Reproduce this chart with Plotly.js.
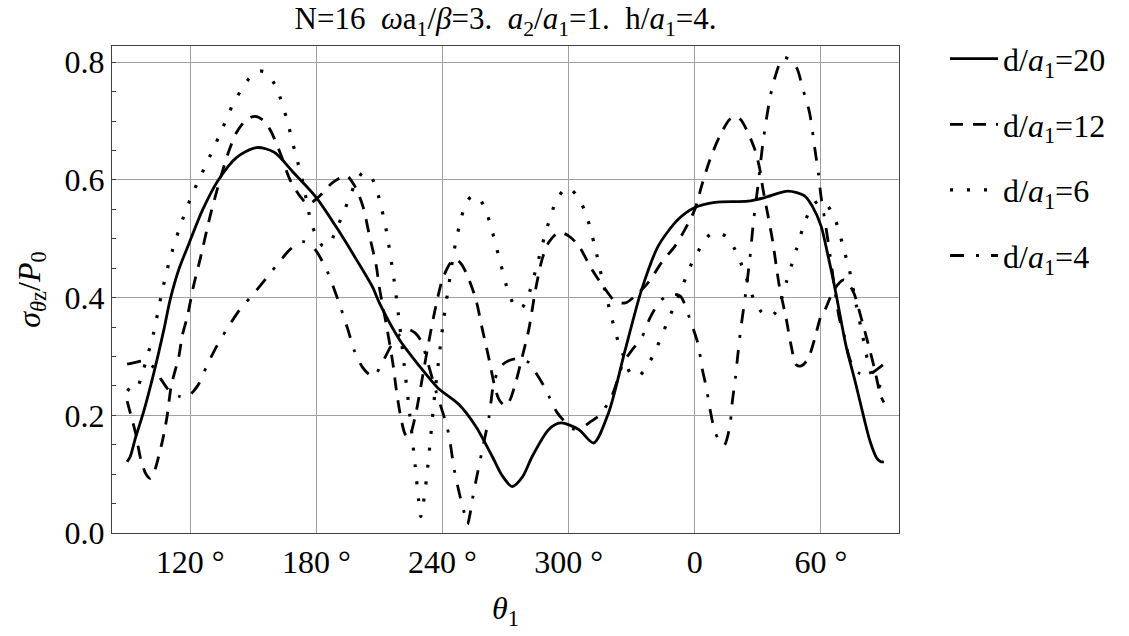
<!DOCTYPE html>
<html><head><meta charset="utf-8">
<script src="https://cdn.plot.ly/plotly-3.0.1.min.js"></script>
<style>html,body{margin:0;padding:0;background:#fff;} #chart{width:1129px;height:636px;}</style>
</head><body><div id="chart"></div>
<script>
// legend labels
const seriesNames = ["d/<i>a</i><sub>1</sub>=20", "d/<i>a</i><sub>1</sub>=12", "d/<i>a</i><sub>1</sub>=6", "d/<i>a</i><sub>1</sub>=4"];

// x tick positions (degrees, unwrapped 90..450) and labels
const tickDeg = [120, 180, 240, 300, 360, 420];
const tickText = ["120 °", "180 °", "240 °", "300 °", "0", "60 °"];

// y tick values and labels
const yTickVals = [0, 0.2, 0.4, 0.6, 0.8];
const yTickText = ["0.0", "0.2", "0.4", "0.6", "0.8"];

// d/a1 = 20 (solid)
const thetaD20 = [90, 91.5, 94, 98, 102.7, 107.5, 110.5, 114.5, 119.2, 126, 133.4, 142, 151.6, 160, 169, 180, 191.1, 199, 206.9, 210, 219.5, 229, 237.7, 248, 255.9, 263.7, 268.5, 273.2, 278, 282.7, 290.6, 296.2, 304.8, 311.9, 319, 327, 334.8, 342.7, 352.2, 360.1, 369.6, 385.4, 393.3, 404.4, 412.3, 416, 420.1, 423.5, 426.5, 432, 436.5, 440.7, 443.5, 446.5, 448.5, 450];
const valD20 = [0.121, 0.13, 0.162, 0.208, 0.272, 0.346, 0.397, 0.447, 0.49, 0.55, 0.60, 0.638, 0.655, 0.647, 0.613, 0.570, 0.511, 0.465, 0.417, 0.391, 0.329, 0.284, 0.247, 0.218, 0.181, 0.130, 0.097, 0.079, 0.095, 0.130, 0.176, 0.187, 0.176, 0.153, 0.204, 0.312, 0.414, 0.488, 0.533, 0.553, 0.562, 0.564, 0.570, 0.581, 0.573, 0.555, 0.522, 0.47, 0.42, 0.318, 0.255, 0.193, 0.155, 0.128, 0.121, 0.121];

// d/a1 = 12 (dashed)
const thetaD12 = [90, 91.5, 94, 96.5, 99, 101, 103, 105, 107, 109, 111, 114.6, 116.2, 118.7, 121.6, 124.7, 129.5, 134.2, 138.2, 142.1, 146.9, 150.8, 154.5, 157.9, 162.7, 167.4, 172.1, 176.1, 181.6, 187.9, 194.3, 198.2, 202.1, 205.3, 208.5, 210, 213.5, 216.4, 218, 220, 222, 223.5, 225, 227.4, 230.6, 233.7, 236.9, 240, 244, 246.4, 249, 251.9, 255.9, 259, 262.2, 264.5, 266.9, 269.8, 272, 274.8, 278, 281.1, 284.3, 287.4, 290.6, 295.4, 300, 304.8, 311.1, 317.5, 322.2, 327, 331.7, 338, 344.3, 350.7, 355.4, 360.1, 363.3, 367.3, 372, 376.7, 379.4, 382, 384.6, 388.6, 391, 392.5, 394.9, 397.2, 398.8, 400.4, 403.6, 405.9, 408.3, 410.7, 413.8, 417, 420.1, 421.7, 426.4, 431, 435.2, 439.1, 442.5, 445.5, 448.5, 450];
const valD12 = [0.224, 0.204, 0.17, 0.125, 0.10, 0.093, 0.105, 0.13, 0.16, 0.198, 0.25, 0.30, 0.335, 0.369, 0.42, 0.465, 0.539, 0.601, 0.647, 0.681, 0.703, 0.708, 0.702, 0.686, 0.647, 0.601, 0.573, 0.559, 0.573, 0.596, 0.607, 0.59, 0.556, 0.505, 0.454, 0.417, 0.35, 0.289, 0.245, 0.20, 0.17, 0.162, 0.17, 0.204, 0.267, 0.329, 0.386, 0.431, 0.46, 0.465, 0.457, 0.437, 0.397, 0.346, 0.295, 0.255, 0.227, 0.216, 0.225, 0.255, 0.30, 0.346, 0.414, 0.465, 0.494, 0.511, 0.505, 0.488, 0.448, 0.414, 0.394, 0.391, 0.403, 0.426, 0.46, 0.488, 0.516, 0.55, 0.59, 0.635, 0.675, 0.703, 0.708, 0.702, 0.686, 0.652, 0.618, 0.584, 0.539, 0.494, 0.454, 0.417, 0.363, 0.318, 0.286, 0.284, 0.295, 0.329, 0.369, 0.377, 0.414, 0.43, 0.412, 0.367, 0.322, 0.28, 0.233, 0.222];

// d/a1 = 6 (dotted)
const thetaD6 = [90, 92.5, 95, 97.3, 99.6, 102.6, 106.6, 110.4, 115.2, 120.8, 127.5, 134.2, 140.5, 144.5, 148.9, 152.5, 155.8, 160.6, 165.8, 169.7, 173.6, 176.8, 179.1, 183.1, 186, 188.6, 194.9, 198.1, 202, 205, 207.6, 210, 213.4, 217.1, 219.1, 221.8, 224.5, 227, 228.6, 229.7, 230.9, 232.5, 234.5, 236, 238.7, 240.7, 243.1, 245.5, 248.9, 251.5, 254, 257, 260.8, 263.3, 267.3, 271.6, 275, 277.5, 280.2, 284.9, 288.9, 293.9, 298.6, 301.5, 304.3, 307.9, 312.3, 315.8, 319.5, 323.7, 326.5, 329.5, 333, 336.3, 340.3, 346.6, 352.8, 358.8, 362.7, 367.5, 371, 374.9, 379.3, 382.5, 385.3, 387.8, 391.7, 395, 398, 401, 403.6, 408.3, 413, 417, 420, 423.3, 427.2, 431.5, 433.6, 436.7, 439.9, 441.5, 443.5, 446, 450];
const valD6 = [0.245, 0.24, 0.248, 0.272, 0.30, 0.34, 0.41, 0.466, 0.521, 0.574, 0.626, 0.678, 0.73, 0.754, 0.776, 0.785, 0.783, 0.76, 0.705, 0.65, 0.596, 0.539, 0.512, 0.488, 0.49, 0.508, 0.562, 0.59, 0.612, 0.61, 0.595, 0.567, 0.512, 0.427, 0.37, 0.286, 0.20, 0.115, 0.058, 0.028, 0.05, 0.095, 0.167, 0.224, 0.309, 0.366, 0.423, 0.479, 0.535, 0.563, 0.572, 0.571, 0.546, 0.518, 0.463, 0.407, 0.383, 0.382, 0.397, 0.454, 0.508, 0.562, 0.586, 0.583, 0.571, 0.546, 0.49, 0.435, 0.38, 0.324, 0.298, 0.271, 0.266, 0.278, 0.302, 0.355, 0.407, 0.46, 0.485, 0.508, 0.51, 0.504, 0.481, 0.454, 0.426, 0.40, 0.376, 0.368, 0.373, 0.395, 0.426, 0.481, 0.534, 0.56, 0.565, 0.556, 0.529, 0.475, 0.447, 0.39, 0.335, 0.306, 0.275, 0.255, 0.245];

// d/a1 = 4 (dash-dot)
const thetaD4 = [90, 94, 97.8, 101.9, 106.7, 110.7, 115, 118.5, 123.5, 127.9, 132.7, 137.4, 143.7, 150, 157.1, 162.7, 167, 171.3, 174, 177, 180, 184.8, 187.9, 191.9, 195, 198.2, 202.1, 205.3, 207.5, 210.9, 216.4, 220, 223.5, 227, 230, 233, 237, 241.7, 243.2, 245.6, 248, 250.3, 251.9, 253, 254.3, 255.9, 259, 262.2, 264.5, 267.5, 270, 274.8, 278, 281, 284.3, 288.2, 291.4, 294.5, 298, 302, 306.4, 310, 315, 320.6, 326.2, 330, 334.8, 338.8, 343.5, 348, 353, 358.5, 361.7, 363.3, 365.6, 367.3, 369.6, 372, 374, 376.7, 377.8, 379.4, 380.3, 381.9, 384.2, 386.2, 388, 390.1, 392.5, 395.7, 398, 402, 405, 408.6, 411.5, 414.6, 417.4, 418.9, 420.1, 422, 424.5, 426.4, 428.8, 431.2, 433, 435, 438, 442, 446, 450];
const valD4 = [0.287, 0.29, 0.292, 0.284, 0.258, 0.239, 0.232, 0.231, 0.25, 0.284, 0.318, 0.346, 0.38, 0.406, 0.437, 0.462, 0.48, 0.492, 0.495, 0.49, 0.479, 0.448, 0.42, 0.38, 0.346, 0.309, 0.281, 0.269, 0.266, 0.286, 0.323, 0.338, 0.346, 0.34, 0.325, 0.29, 0.24, 0.187, 0.164, 0.108, 0.068, 0.035, 0.015, 0.03, 0.058, 0.088, 0.142, 0.198, 0.256, 0.282, 0.29, 0.296, 0.293, 0.29, 0.273, 0.25, 0.227, 0.205, 0.19, 0.177, 0.179, 0.188, 0.201, 0.233, 0.29, 0.31, 0.332, 0.366, 0.394, 0.405, 0.403, 0.355, 0.32, 0.284, 0.246, 0.21, 0.173, 0.155, 0.149, 0.181, 0.22, 0.264, 0.295, 0.346, 0.406, 0.465, 0.53, 0.59, 0.664, 0.737, 0.772, 0.808, 0.805, 0.79, 0.754, 0.715, 0.647, 0.61, 0.572, 0.53, 0.47, 0.42, 0.365, 0.335, 0.305, 0.285, 0.272, 0.268, 0.276, 0.287];

const FONT = "Liberation Serif, Times New Roman, serif";
const styles = [
  {dash: "solid", width: 2.8},
  {dash: "13px,10px", width: 2.8},
  {dash: "3px,14px", width: 3.2},
  {dash: "14px,12px,3px,12px", width: 2.8}
];
const xs = [thetaD20, thetaD12, thetaD6, thetaD4];
const ys = [valD20, valD12, valD6, valD4];

const traces = seriesNames.map((nm, i) => ({
  type: "scatter", mode: "lines", x: xs[i], y: ys[i], name: nm,
  legendgroup: "g" + i,
  line: {color: "#000", width: styles[i].width, dash: styles[i].dash, shape: "spline", smoothing: 0.8},
  hoverinfo: "skip"
}));

const layout = {
  width: 1129, height: 636,
  margin: {l: 112, r: 230, t: 46, b: 103},
  paper_bgcolor: "#fff", plot_bgcolor: "#fff",
  font: {family: FONT, size: 32, color: "#000"},
  title: {
    text: "N=16\u00A0\u00A0<i>ω</i>a<sub>1</sub>/<i>β</i>=3.\u00A0\u00A0<i>a</i><sub>2</sub>/<i>a</i><sub>1</sub>=1.\u00A0\u00A0h/<i>a</i><sub>1</sub>=4.",
    font: {family: FONT, size: 31, color: "#000"},
    x: 0.5, xref: "paper", xanchor: "center",
    y: 0.971, yref: "container", yanchor: "middle"
  },
  xaxis: {
    range: [82.8, 457.2], tickmode: "array", tickvals: tickDeg, ticktext: tickText,
    showgrid: true, gridcolor: "#a0a0a0", gridwidth: 1,
    showline: true, mirror: true, linecolor: "#404040", linewidth: 1.3,
    ticks: "", zeroline: false,
    tickfont: {family: FONT, size: 32, color: "#000"},
    title: {text: "<i>θ</i><sub>1</sub>", font: {family: FONT, size: 32, color: "#000"}, standoff: 18}
  },
  yaxis: {
    range: [0, 0.8276], tickmode: "array", tickvals: yTickVals, ticktext: yTickText,
    showgrid: true, gridcolor: "#a0a0a0", gridwidth: 1,
    showline: true, mirror: true, linecolor: "#404040", linewidth: 1.3,
    ticks: "inside", ticklen: 4, tickcolor: "#404040", tickwidth: 1,
    minor: {tickmode: "linear", tick0: 0, dtick: 0.05, ticks: "inside", ticklen: 4, tickcolor: "#404040", tickwidth: 1, showgrid: false},
    zeroline: false,
    tickfont: {family: FONT, size: 32, color: "#000"},
    title: {text: "<i>σ</i><sub><i>θ</i>z</sub>/<i>P</i><sub>0</sub>", font: {family: FONT, size: 32, color: "#000"}, standoff: 14}
  },
  showlegend: true,
  legend: {
    x: (945 - 112) / 787, xanchor: "left", y: 1.03, yanchor: "top",
    font: {family: FONT, size: 32, color: "#000"},
    tracegroupgap: 21, itemwidth: 48, bgcolor: "rgba(0,0,0,0)", borderwidth: 0
  }
};

Plotly.newPlot("chart", traces, layout, {displayModeBar: false});
</script></body></html>
